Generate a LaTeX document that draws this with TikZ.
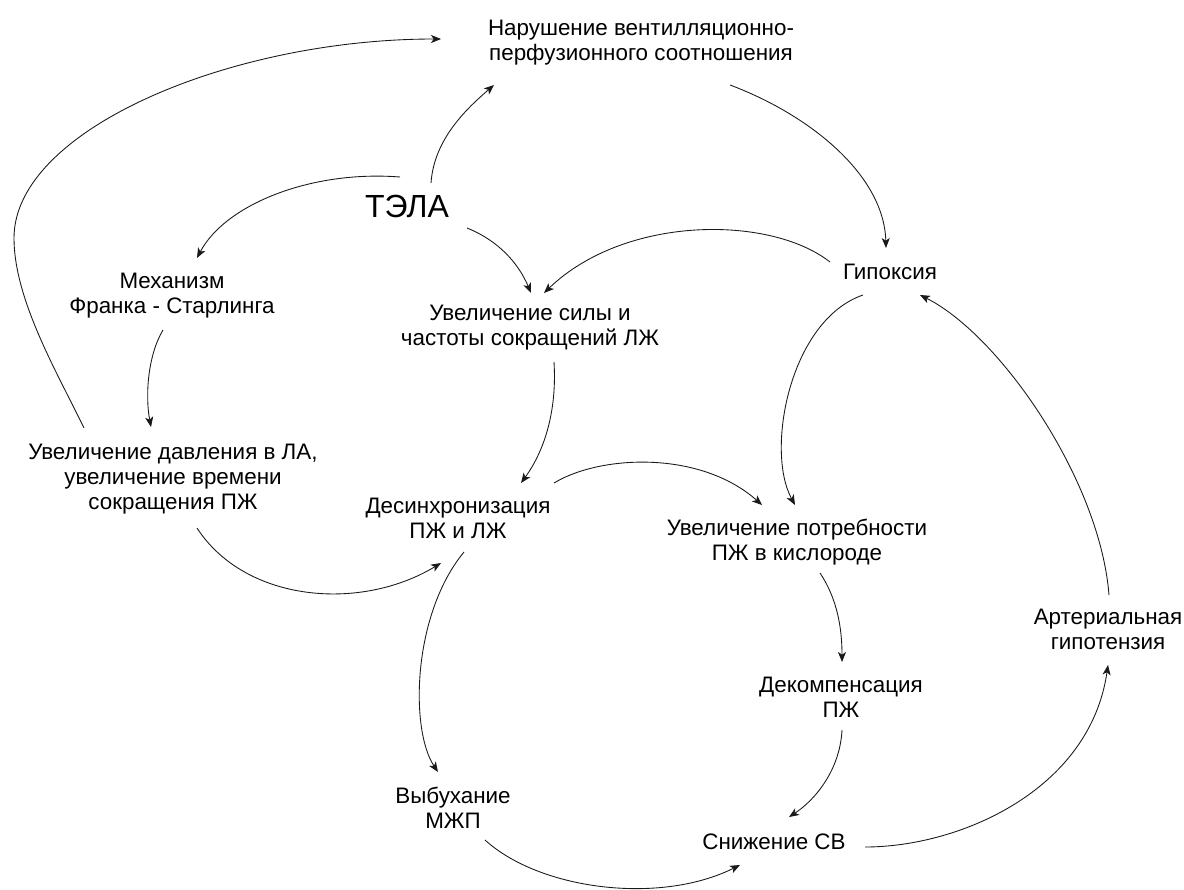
\documentclass[tikz,border=0pt]{standalone}
\usepackage{fontspec}
\setmainfont{Liberation Sans}
\usetikzlibrary{calc,arrows.meta}
\begin{document}
\begin{tikzpicture}[x=0.75pt,y=-0.75pt,
  lbl/.style={align=center,font=\fontsize{16.8}{18.75}\selectfont,inner sep=0pt},
  big/.style={font=\fontsize{24}{28}\selectfont,inner sep=0pt},
  arr/.style={-{Stealth[length=7.5pt,width=6pt,inset=2pt]},line width=0.65pt,draw=black!90}]
\useasboundingbox (0,0) rectangle (1184,889);
\fill[white] (0,0) rectangle (1184,889);
% nodes
\node[lbl] (nar) at (641,43) {Нарушение вентилляционно-\\перфузионного соотношения};
\node[big] (tela) at (407,206) {ТЭЛА};
\node[lbl] (mech) at (172,296) {Механизм\\Франка - Старлинга};
\node[lbl] (sila) at (530,328) {Увеличение силы и\\частоты сокращений ЛЖ};
\node[lbl] (hyp) at (890,272) {Гипоксия};
\node[lbl] (dav) at (173,479) {Увеличение давления в ЛА,\\увеличение времени\\сокращения ПЖ};
\node[lbl] (desync) at (458,518) {Десинхронизация\\ПЖ и ЛЖ};
\node[lbl] (potr) at (797,542) {Увеличение потребности\\ПЖ в кислороде};
\node[lbl] (art) at (1108,629) {Артериальная\\гипотензия};
\node[lbl] (decomp) at (841,697) {Декомпенсация\\ПЖ};
\node[lbl] (vyb) at (453,808) {Выбухание\\МЖП};
\node[lbl] (snizh) at (774,842) {Снижение СВ};
% connectors
\draw[arr] ($(tela)+(24,-23)$) .. controls (434,140) and (465,110) .. ($(nar)+(-147,42)$);
\draw[arr] ($(tela)+(-7,-29)$) .. controls (310,170) and (225,205) .. ($(mech)+(25,-38)$);
\draw[arr] ($(tela)+(60,22)$) .. controls (497,240) and (518,262) .. ($(sila)+(1,-35)$);
\draw[arr] ($(hyp)+(-60,-10)$) .. controls (770,215) and (625,215) .. ($(sila)+(14,-35)$);
\draw[arr] ($(nar)+(89,42)$) .. controls (810,115) and (884,175) .. ($(hyp)+(-4,-24)$);
\draw[arr] ($(hyp)+(-27,23)$) .. controls (790,320) and (765,450) .. ($(potr)+(-2,-37)$);
\draw[arr] ($(art)+(1,-34)$) .. controls (1100,480) and (1000,335) .. ($(hyp)+(30,23)$);
\draw[arr] ($(mech)+(-9,34)$) .. controls (148,355) and (145,395) .. ($(dav)+(-22,-52)$);
\coordinate (ibend) at (14,238);
\draw[arr] ($(dav)+(-89,-51)$) .. controls (58,374) and (14,300) .. (ibend)
  .. controls (14,130) and (230,39) .. ($(nar)+(-200,-4)$);
\draw[arr] ($(sila)+(24,34)$) .. controls (557,410) and (545,450) .. ($(desync)+(63,-35)$);
\draw[arr] ($(dav)+(24,49)$) .. controls (245,602) and (360,612) .. ($(desync)+(-17,45)$);
\draw[arr] ($(desync)+(96,-35)$) .. controls (600,455) and (700,450) .. ($(potr)+(-35,-37)$);
\draw[arr] ($(desync)+(6,34)$) .. controls (412,615) and (410,730) .. ($(vyb)+(-15,-36)$);
\draw[arr] ($(potr)+(23,31)$) .. controls (838,600) and (842,630) .. ($(decomp)+(1,-35)$);
\draw[arr] ($(decomp)+(1,33)$) .. controls (840,770) and (815,800) .. ($(snizh)+(15,-25)$);
\draw[arr] ($(vyb)+(32,32)$) .. controls (540,890) and (660,905) .. ($(snizh)+(-34,23)$);
\draw[arr] ($(snizh)+(91,5)$) .. controls (960,847) and (1090,790) .. ($(art)+(0,36)$);
\end{tikzpicture}
\end{document}
